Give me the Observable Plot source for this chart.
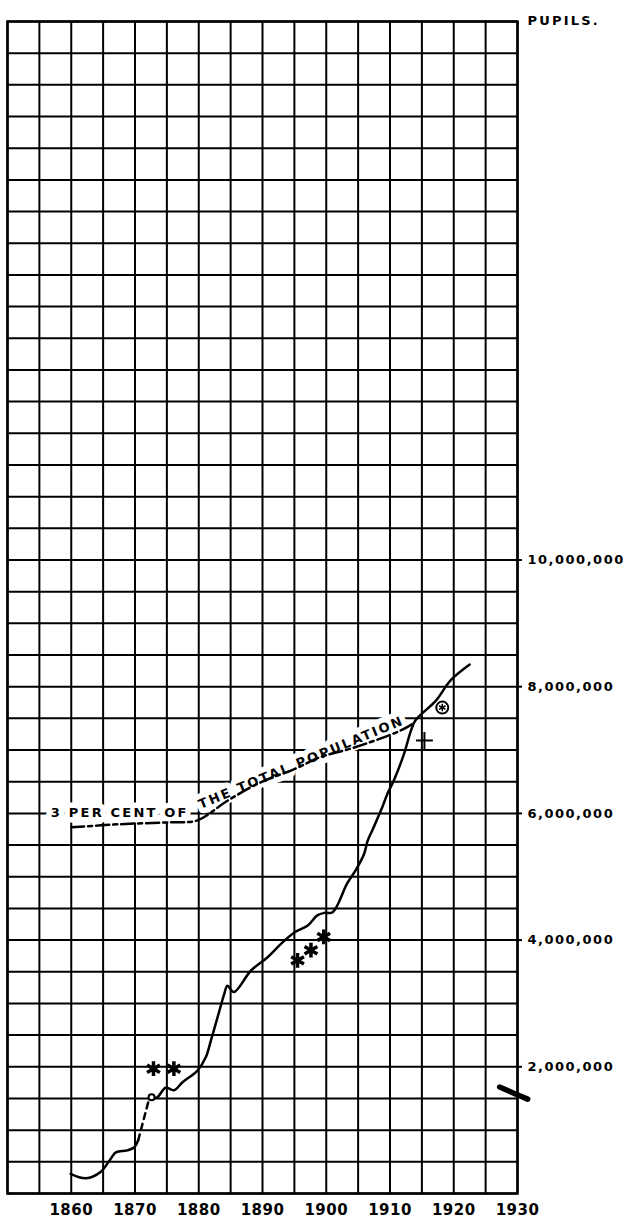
<!DOCTYPE html>
<html><head><meta charset="utf-8">
<script src="https://cdn.jsdelivr.net/npm/d3@7"></script>
<script src="https://cdn.jsdelivr.net/npm/@observablehq/plot@0.6"></script>
<style>
html,body{margin:0;padding:0;background:#fff;}
#chart svg{display:block;}
#chart text{font-family:"DejaVu Sans",sans-serif;font-weight:bold;}
#chart g[aria-label="y-axis tick label"] text{letter-spacing:1.5px;}
#chart g[aria-label="x-axis tick label"] text{letter-spacing:0.5px;}
</style></head><body><div id="chart"></div>
<script>
// ---- tick labels ----
const xTickLabels = [1860, 1870, 1880, 1890, 1900, 1910, 1920, 1930];
const yTickValues = [2000000, 4000000, 6000000, 8000000, 10000000];
const yUnitLabel = ["PUPILS."];

// ---- pupils: early solid segment ----
const earlyYears  = [1859.9, 1862.3, 1864.6, 1866.2, 1867.0, 1868.8, 1869.9, 1870.5];
const earlyPupils = [310000, 240000, 340000, 550000, 650000, 680000, 730000, 840000];

// ---- pupils: dashed gap ----
const gapYears  = [1870.5, 1872.2];
const gapPupils = [840000, 1490000];

// ---- pupils: main solid segment ----
const mainYears  = [1872.2, 1873.5, 1874.8, 1876.1, 1877.5, 1879.8, 1881.1, 1882.0, 1883.0, 1883.7, 1884.0, 1884.5, 1885.5,
                    1888.2, 1890.8, 1892.9, 1895.0, 1897.1, 1898.6, 1899.7, 1901.0, 1903.3, 1904.6, 1905.9, 1906.5,
                    1907.3, 1908.8, 1909.6, 1910.6, 1912.2, 1913.3, 1914.0, 1917.2, 1919.5, 1922.5];
const mainPupils = [1490000, 1520000, 1670000, 1630000, 1760000, 1940000, 2150000, 2450000, 2800000, 3050000, 3150000, 3280000, 3180000,
                    3520000, 3730000, 3940000, 4120000, 4230000, 4390000, 4430000, 4440000, 4900000, 5100000, 5350000, 5570000,
                    5750000, 6100000, 6310000, 6520000, 6940000, 7310000, 7470000, 7780000, 8100000, 8350000];

// ---- 3 per cent of the total population ----
const popYears  = [1860.0, 1867.8, 1875.6, 1879.8, 1884.5, 1889.7, 1895.0, 1899.1, 1904.4, 1911.7, 1914.0];
const popPupils = [5780000, 5830000, 5860000, 5890000, 6200000, 6490000, 6700000, 6890000, 7040000, 7310000, 7440000];

// ---- special markers ----
const starYears  = [1872.9, 1876.1, 1895.5, 1897.6, 1899.6];
const starPupils = [1970000, 1970000, 3680000, 3840000, 4050000];
const ringYears  = [1872.6];
const ringPupils = [1520000];
const plusYears  = [1915.4];
const plusPupils = [7150000];
const circledYears  = [1918.2];
const circledPupils = [7670000];

// ---- axis-break stroke ----
const breakYears  = [1927.2, 1929.5, 1931.6];
const breakValues = [1680000, 1580000, 1490000];

// ---- line label ----
const labelTexts  = ["3 PER CENT OF", "THE TOTAL POPULATION"];
const labelYears  = [1856.8, 1880.3];
const labelValues = [5940000, 6070000];
const labelAngles = [0, -22.6];

const toRows = (xs, ys) => xs.map((x, i) => ({year: x, value: ys[i]}));
const early = toRows(earlyYears, earlyPupils);
const gap = toRows(gapYears, gapPupils);
const main = toRows(mainYears, mainPupils);
const pop = toRows(popYears, popPupils);
const stars = toRows(starYears, starPupils);
const rings = toRows(ringYears, ringPupils);
const pluses = toRows(plusYears, plusPupils);
const circled = toRows(circledYears, circledPupils);
const brk = toRows(breakYears, breakValues);
const labels = labelTexts.map((t, i) => ({text: t, year: labelYears[i], value: labelValues[i], angle: labelAngles[i]}));

const gridX = d3.range(1850, 1931, 5);
const gridY = d3.range(0, 38).map(i => i * 500000);

const chart = Plot.plot({
  width: 630,
  height: 1222,
  marginTop: 21,
  marginBottom: 29,
  marginLeft: 7,
  marginRight: 113,
  style: {fontFamily: "DejaVu Sans", background: "white", color: "black"},
  x: {domain: [1850, 1930]},
  y: {domain: [0, 18500000]},
  marks: [
    Plot.ruleX(gridX, {stroke: "black", strokeWidth: 2}),
    Plot.ruleY(gridY, {stroke: "black", strokeWidth: 2}),
    Plot.frame({stroke: "black", strokeWidth: 2.5}),
    Plot.axisX({ticks: xTickLabels, tickFormat: d => String(d), tickSize: 0, tickPadding: 11, fontSize: 15, fontWeight: "bold", label: null}),
    Plot.axisY({anchor: "right", ticks: yTickValues, tickFormat: d3.format(","), tickSize: 4, tickPadding: 6, fontSize: 13, fontWeight: "bold", label: null, strokeWidth: 2}),
    Plot.text(yUnitLabel, {x: () => 1930, y: () => 18500000, text: d => d, dx: 10, dy: 3, textAnchor: "start", lineAnchor: "bottom", fontSize: 13, fontWeight: "bold"}),
    Plot.text([labels[0]], {x: "year", y: "value", text: "text", textAnchor: "start", lineAnchor: "bottom", fontSize: 13, fontWeight: "bold", fill: "black", stroke: "white", strokeWidth: 11, strokeLinejoin: "round"}),
    Plot.text([labels[1]], {x: "year", y: "value", text: "text", rotate: labels[1].angle, textAnchor: "start", lineAnchor: "bottom", fontSize: 13, fontWeight: "bold", fill: "black", stroke: "white", strokeWidth: 11, strokeLinejoin: "round"}),
    Plot.line(pop, {x: "year", y: "value", stroke: "black", strokeWidth: 2.5, strokeDasharray: "13,4,4,4", curve: "catmull-rom"}),
    Plot.line(early, {x: "year", y: "value", stroke: "black", strokeWidth: 2.5, curve: "catmull-rom", strokeLinejoin: "round"}),
    Plot.line(gap, {x: "year", y: "value", stroke: "black", strokeWidth: 2.5, strokeDasharray: "6,5"}),
    Plot.line(main, {x: "year", y: "value", stroke: "black", strokeWidth: 2.5, curve: "catmull-rom", strokeLinejoin: "round"}),
    Plot.dot(stars, {x: "year", y: "value", symbol: "asterisk", r: 7, stroke: "black", strokeWidth: 3.5}),
    Plot.dot(rings, {x: "year", y: "value", r: 3, stroke: "black", strokeWidth: 2, fill: "white"}),
    Plot.dot(pluses, {x: "year", y: "value", symbol: "plus", r: 5.5, stroke: "black", strokeWidth: 2}),
    Plot.dot(circled, {x: "year", y: "value", r: 6, stroke: "black", strokeWidth: 2, fill: "white"}),
    Plot.dot(circled, {x: "year", y: "value", symbol: "asterisk", r: 3.5, stroke: "black", strokeWidth: 1.5}),
    Plot.line(brk, {x: "year", y: "value", stroke: "black", strokeWidth: 5.5, strokeLinecap: "round", curve: "catmull-rom"})
  ]
});
document.getElementById("chart").appendChild(chart);
// letter spacing for the free text labels
d3.select(chart).selectAll('g[aria-label="text"] text').style("letter-spacing", "2.2px");
</script></body></html>
